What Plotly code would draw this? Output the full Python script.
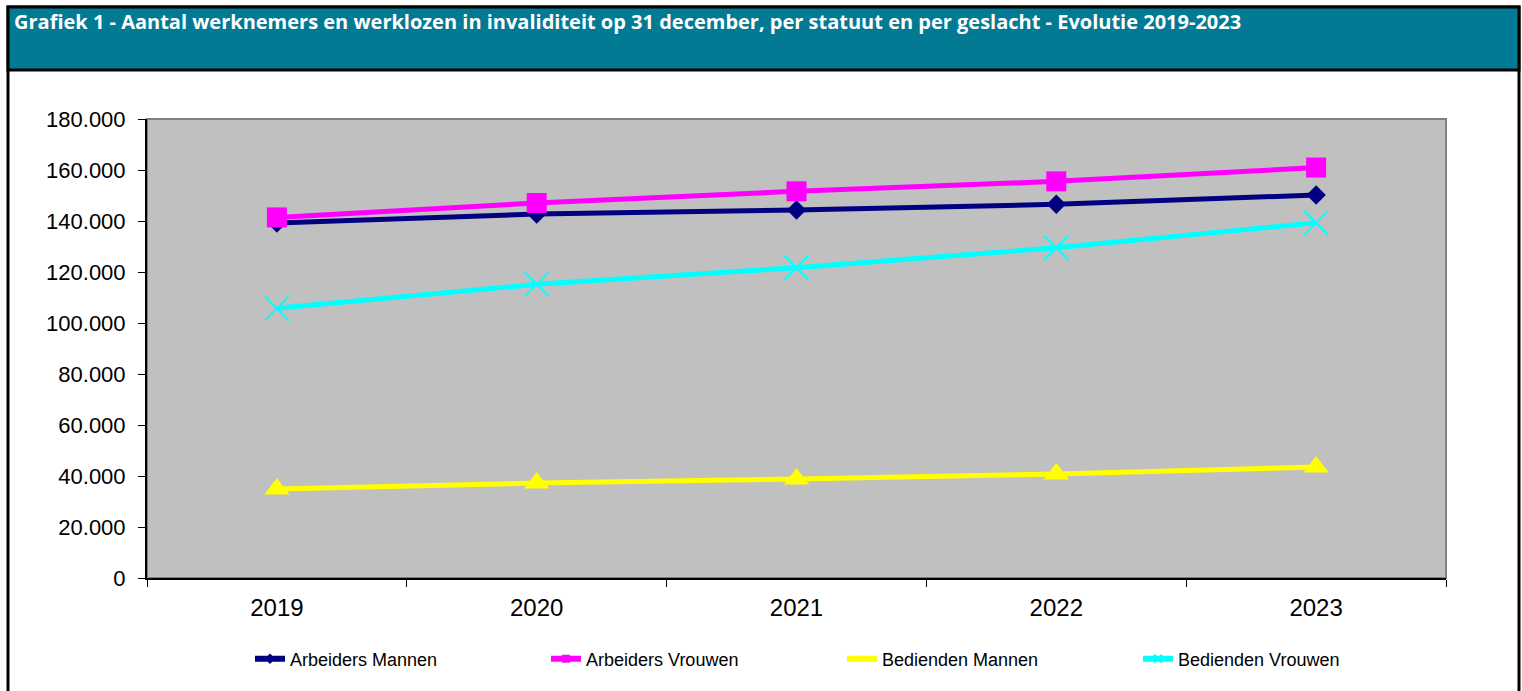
import plotly.graph_objects as go

years = ["2019", "2020", "2021", "2022", "2023"]

arbeiders_mannen = [139200, 142750, 144300, 146550, 150200]
arbeiders_vrouwen = [141400, 147050, 151650, 155550, 160950]
bedienden_mannen = [34900, 37250, 38800, 40800, 43500]
bedienden_vrouwen = [105750, 115200, 121700, 129500, 139300]

y_ticks = [0, 20000, 40000, 60000, 80000, 100000, 120000, 140000, 160000, 180000]

title = "Grafiek 1 - Aantal werknemers en werklozen in invaliditeit op 31 december, per statuut en per geslacht - Evolutie 2019-2023"

W, H = 1522, 691
L, R, T, B = 147, 1446, 119, 578


def px(x):
    return (x - L) / (R - L)


def py(y):
    return (B - y) / (B - T)


series = [
    ("Arbeiders Mannen", arbeiders_mannen, "#000080", "diamond", 15, dict()),
    ("Arbeiders Vrouwen", arbeiders_vrouwen, "#FF00FF", "square", 20, dict()),
    ("Bedienden Mannen", bedienden_mannen, "#FFFF00", "triangle-up", 22, dict()),
    ("Bedienden Vrouwen", bedienden_vrouwen, "#00FFFF", "x-thin-open", 24, dict(width=2, color="#00FFFF")),
]

fig = go.Figure()

for name, vals, col, sym, size, mline in series:
    fig.add_trace(go.Scatter(x=years, y=vals, mode="lines+markers", name=name, showlegend=False,
                             line=dict(color=col, width=5),
                             marker=dict(symbol=sym, size=size, color=col, line=mline)))

# small legend samples like the original
for name, vals, col, sym, size, mline in series:
    fig.add_trace(go.Scatter(x=[None], y=[None], mode="lines+markers", name=name,
                             line=dict(color=col, width=6),
                             marker=dict(symbol=sym, size=8, color=col, line=mline)))

shapes = [
    # outer frame
    dict(type="rect", xref="paper", yref="paper", x0=px(8), x1=px(1519), y0=py(7), y1=py(720),
         line=dict(color="black", width=3), layer="below"),
    # title bar
    dict(type="rect", xref="paper", yref="paper", x0=px(8), x1=px(1519), y0=py(7), y1=py(70),
         line=dict(color="black", width=3), fillcolor="#037A93", layer="below"),
    # plot frame (grey top / right)
    dict(type="rect", xref="paper", yref="paper", x0=0, x1=1, y0=0, y1=1,
         line=dict(color="#808080", width=2), layer="below"),
]

fig.update_layout(
    width=W, height=H,
    margin=dict(l=L, r=W - R, t=T, b=H - B),
    paper_bgcolor="white",
    plot_bgcolor="#C0C0C0",
    separators=",.",
    font=dict(family="Liberation Sans, Arial, sans-serif", color="black"),
    shapes=shapes,
    annotations=[dict(text="<b>" + title + "</b>", xref="paper", yref="paper", x=px(12), y=py(22),
                      xanchor="left", yanchor="middle", showarrow=False,
                      font=dict(family="Open Sans, sans-serif", size=20, color="white"))],
    legend=dict(orientation="h", x=px(250), y=py(659), xanchor="left", yanchor="middle",
                entrywidth=251, font=dict(size=18), bgcolor="rgba(0,0,0,0)",
                tracegroupgap=0),
    xaxis=dict(type="category", range=[-0.5, 4.5], tickson="boundaries", ticks="outside",
               ticklen=7, tickcolor="black", showline=True, linecolor="black", linewidth=2,
               showgrid=False, tickfont=dict(size=24), ticklabelstandoff=7, fixedrange=True),
    yaxis=dict(range=[0, 180000], tickvals=y_ticks, tickformat=",d", ticks="outside",
               ticklen=7, tickcolor="black", showline=True, linecolor="black", linewidth=2,
               showgrid=False, zeroline=False, tickfont=dict(size=22), ticklabelstandoff=8,
               fixedrange=True),
)

fig.write_html("out.html", config={"displayModeBar": False},
               post_script="document.body.style.margin='0';")
